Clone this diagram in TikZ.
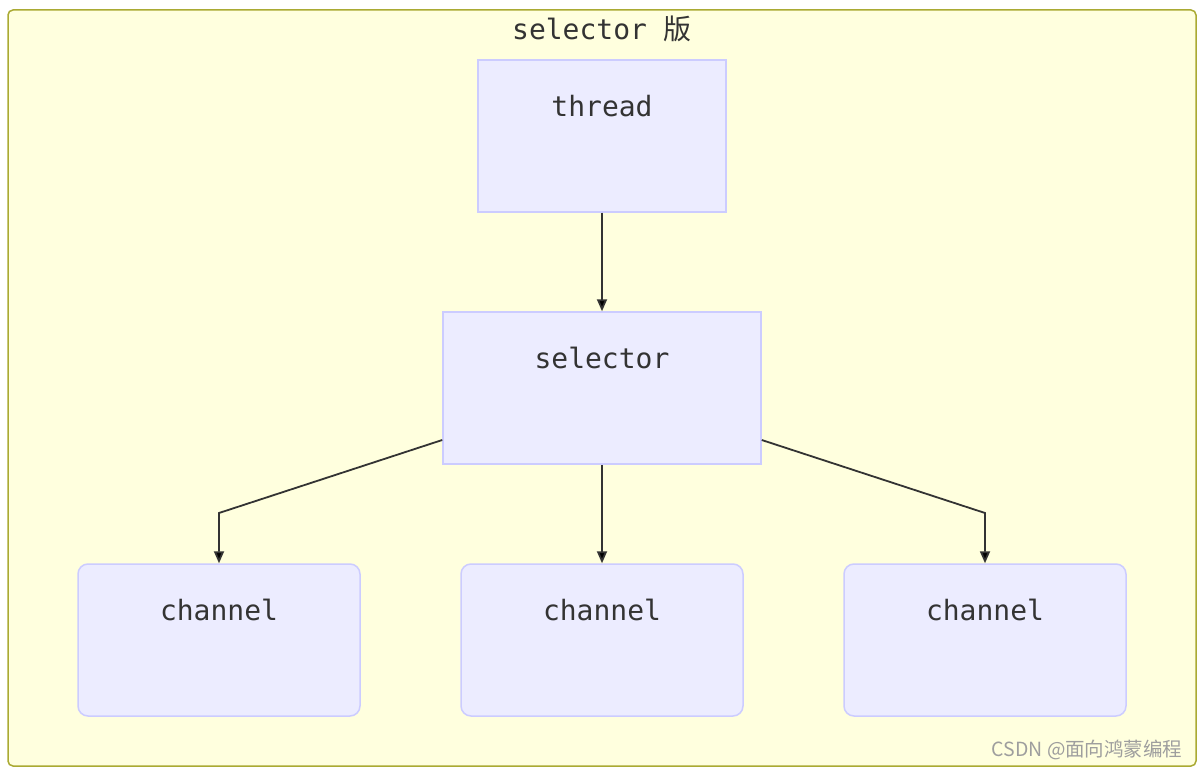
\documentclass[tikz,border=0pt]{standalone}
\usepackage{fontspec}
\setmonofont{DejaVu Sans Mono}
\newfontfamily\cjk{Noto Sans CJK SC}
\usepackage{xcolor}
\usetikzlibrary{positioning,arrows.meta}
\definecolor{clusterfill}{HTML}{FFFFDE}
\definecolor{clusterline}{HTML}{AAAA33}
\definecolor{boxfill}{HTML}{ECECFF}
\definecolor{boxline}{HTML}{CCCCFF}
\definecolor{inktext}{HTML}{333333}

\begin{document}
\begin{tikzpicture}[x=1pt, y=-1pt,
    cluster/.style={rectangle, draw=clusterline, fill=clusterfill, line width=1.5pt,
        rounded corners=5pt, minimum width=1188pt, minimum height=756pt, inner sep=0pt},
    box/.style={rectangle, draw=boxline, fill=boxfill, line width=1.5pt,
        minimum height=152pt, inner sep=0pt},
    chanbox/.style={box, rounded corners=10pt, minimum width=282pt},
    boxtext/.style={font=\ttfamily\fontsize{28}{32}\selectfont, text=inktext},
    link/.style={draw=inktext, line width=1.8pt, -{Triangle[length=12pt, width=10pt, fill=black]}}]

    \useasboundingbox (0,0) rectangle (1200,770);

    % group frame
    \node[cluster] (frame) at (602,388) {};
    \node[boxtext] (title) at (602,29) {selector {\cjk 版}};

    % boxes
    \node[box, minimum width=248pt] (thread) at (602,136) {};
    \node[box, minimum width=318pt] (sel) at (602,388) {};
    \node[chanbox] (chA) at (219,640) {};
    \node[chanbox] (chB) at (602,640) {};
    \node[chanbox] (chC) at (985,640) {};

    % labels
    \node[boxtext, below=32pt of thread.north] (threadtxt) {thread};
    \node[boxtext, below=32pt of sel.north] (seltxt) {selector};
    \node[boxtext, below=32pt of chA.north] (chAtxt) {channel};
    \node[boxtext, below=32pt of chB.north] (chBtxt) {channel};
    \node[boxtext, below=32pt of chC.north] (chCtxt) {channel};

    % connectors
    \coordinate (bendA) at (219,513);
    \coordinate (bendC) at (985,513);
    \draw[link] (thread.south) -- (sel.north);
    \draw[link] ([yshift=-52pt]sel.west) -- (bendA) -- (chA.north);
    \draw[link] (sel.south) -- (chB.north);
    \draw[link] ([yshift=-52pt]sel.east) -- (bendC) -- (chC.north);

    % watermark
    \node[anchor=east, text=black!38, font=\cjk\fontsize{19.5}{22}\selectfont] (mark) at (1186,750) {CSDN @面向鸿蒙编程};
\end{tikzpicture}
\end{document}
